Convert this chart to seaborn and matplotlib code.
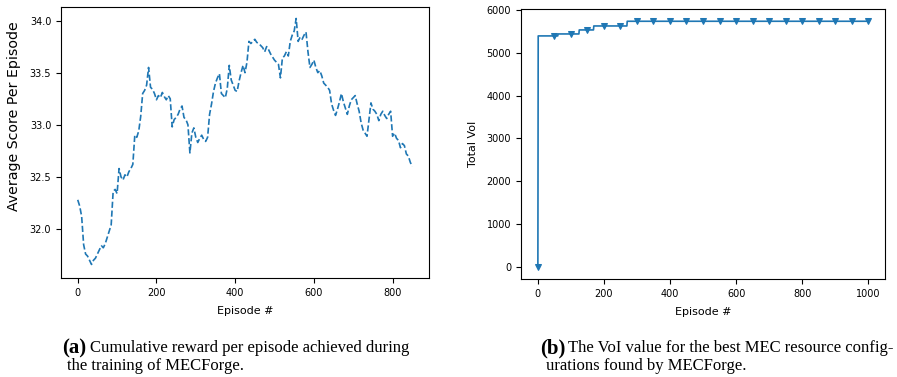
import numpy as np
import pandas as pd
import matplotlib
matplotlib.use("Agg")
import matplotlib.pyplot as plt
import seaborn as sns

# ---------------- data ----------------
# (a) average score per episode, read every 5 episodes
score_step = 5
scores = [
    32.28, 32.22, 32.12, 31.85, 31.76, 31.74, 31.70, 31.66, 31.70, 31.72,
    31.76, 31.80, 31.84, 31.82, 31.86, 31.92, 31.98, 32.04, 32.36, 32.38,
    32.34, 32.58, 32.50, 32.47, 32.52, 32.50, 32.55, 32.58, 32.62, 32.90,
    32.88, 32.94, 33.08, 33.30, 33.33, 33.38, 33.55, 33.36, 33.34, 33.30,
    33.24, 33.28, 33.26, 33.31, 33.27, 33.24, 33.28, 33.25, 32.98, 33.05,
    33.07, 33.10, 33.15, 33.18, 33.07, 33.05, 33.00, 32.73, 32.92, 32.97,
    32.88, 32.83, 32.87, 32.90, 32.86, 32.84, 32.88, 33.10, 33.20, 33.32,
    33.40, 33.45, 33.49, 33.30, 33.28, 33.26, 33.35, 33.57, 33.43, 33.38,
    33.33, 33.32, 33.42, 33.50, 33.57, 33.50, 33.60, 33.80, 33.78, 33.80,
    33.82, 33.79, 33.78, 33.76, 33.74, 33.70, 33.75, 33.72, 33.68, 33.65,
    33.62, 33.60, 33.58, 33.45, 33.64, 33.66, 33.70, 33.66, 33.80, 33.86,
    33.90, 34.02, 33.80, 33.84, 33.82, 33.86, 33.89, 33.70, 33.55, 33.58,
    33.62, 33.55, 33.50, 33.52, 33.47, 33.40, 33.38, 33.36, 33.33, 33.20,
    33.14, 33.09, 33.15, 33.22, 33.30, 33.22, 33.16, 33.10, 33.18, 33.24,
    33.26, 33.28, 33.20, 33.13, 33.02, 32.95, 32.92, 32.89, 33.05, 33.21,
    33.15, 33.13, 33.10, 33.04, 33.10, 33.13, 33.09, 33.06, 33.10, 33.13,
    32.89, 32.92, 32.87, 32.85, 32.78, 32.82, 32.80, 32.72, 32.70, 32.64,
    32.60,
]
score_episodes = np.arange(len(scores)) * score_step

# (b) best VoI found so far: episode where a new best appears, and its value
voi_change_episodes = [0, 2, 62, 126, 170, 271]
voi_change_values = [0, 5400, 5446, 5540, 5633, 5743]
voi_last_episode = 1000

# captions
cap_a_tag = "(a)"
cap_a_lines = ["Cumulative reward per episode achieved during", "the training of MECForge."]
cap_b_tag = "(b)"
cap_b_lines = ["The VoI value for the best MEC resource config-", "urations found by MECForge."]

# ---------------- figure ----------------
sns.set_theme(style="ticks")
plt.rcParams.update({
    "font.family": ["DejaVu Sans"],
    "axes.edgecolor": "black",
    "axes.linewidth": 0.8,
    "xtick.color": "black",
    "ytick.color": "black",
    "xtick.major.width": 0.8,
    "ytick.major.width": 0.8,
    "xtick.major.size": 3.5,
    "ytick.major.size": 3.5,
    "text.color": "black",
    "axes.labelcolor": "black",
})

W, H = 897, 377
fig = plt.figure(figsize=(W / 100, H / 100), dpi=100)

def box(x0, y0, x1, y1):
    return [x0 / W, 1 - y1 / H, (x1 - x0) / W, (y1 - y0) / H]

ax1 = fig.add_axes(box(61, 7, 429, 278))
ax2 = fig.add_axes(box(521, 9, 885, 279))

blue = "#1f77b4"

# (a)
df_a = pd.DataFrame({"episode": score_episodes, "score": scores})
sns.lineplot(data=df_a, x="episode", y="score", ax=ax1, color=blue,
             linestyle="--", linewidth=1.2)
ax1.set_xlim(-42.5, 892.5)
ax1.set_ylim(31.53, 34.13)
ax1.set_xticks([0, 200, 400, 600, 800])
ax1.set_yticks([32.0, 32.5, 33.0, 33.5, 34.0])
ax1.set_yticklabels(["32.0", "32.5", "33.0", "33.5", "34.0"])
ax1.set_xlabel("Episode #", fontsize=8, labelpad=6)
ax1.set_ylabel("Average Score Per Episode", fontsize=10.2)
ax1.yaxis.set_label_coords((21 - 61) / 368, (278 - 116) / 271)
ax1.tick_params(labelsize=7)

# (b)
ep_b = np.arange(0, voi_last_episode + 1)
idx = np.searchsorted(voi_change_episodes, ep_b, side="right") - 1
voi = np.array(voi_change_values)[idx]
df_b = pd.DataFrame({"episode": ep_b, "voi": voi})
sns.lineplot(data=df_b, x="episode", y="voi", ax=ax2, color=blue,
             linewidth=1.2, marker="v", markevery=50, markersize=4.5,
             markeredgecolor=blue, markerfacecolor=blue)
ax2.set_xlim(-50, 1050)
ax2.set_ylim(-290, 6030)
ax2.set_xticks([0, 200, 400, 600, 800, 1000])
ax2.set_yticks([0, 1000, 2000, 3000, 4000, 5000, 6000])
ax2.set_xlabel("Episode #", fontsize=8, labelpad=6)
ax2.set_ylabel("Total VoI", fontsize=8, labelpad=6)
ax2.tick_params(labelsize=7)

for ax in (ax1, ax2):
    for s in ax.spines.values():
        s.set_visible(True)
        s.set_color("black")

# captions
serif = ["Liberation Serif", "DejaVu Serif"]
def caption(x_tag, x_text, x_line2, tag, lines):
    fig.text(x_tag / W, 1 - 353 / H, tag, family=serif, fontsize=15,
             fontweight="bold", va="baseline", ha="left")
    fig.text(x_text / W, 1 - 352 / H, lines[0], family=serif, fontsize=12.0,
             va="baseline", ha="left")
    fig.text(x_line2 / W, 1 - 370 / H, lines[1], family=serif, fontsize=12.0,
             va="baseline", ha="left")

caption(62, 90, 67, cap_a_tag, cap_a_lines)
caption(540, 568, 546, cap_b_tag, cap_b_lines)

fig.savefig("out.png", dpi=100)
